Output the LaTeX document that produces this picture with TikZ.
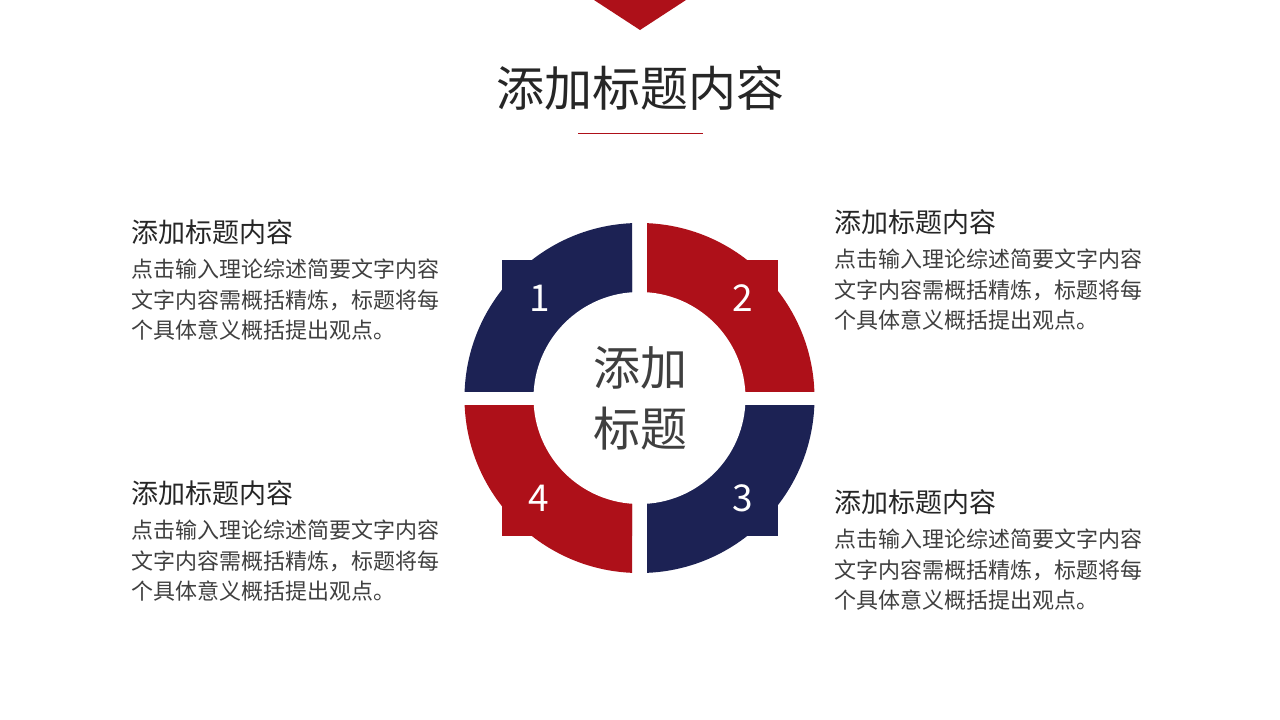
\documentclass[tikz,border=0pt]{standalone}
\usepackage{fontspec}
\setmainfont{Noto Sans CJK SC}
\usetikzlibrary{positioning}
\definecolor{navy}{HTML}{1C2254}
\definecolor{crimson}{HTML}{AE1019}
\definecolor{darkgray}{HTML}{262626}
\definecolor{textgray}{HTML}{3F3F3F}

\begin{document}
\begin{tikzpicture}[x=1pt,y=-1pt,
    heading/.style={anchor=west,inner sep=0pt,text=darkgray,font=\fontsize{27}{32}\selectfont},
    body/.style={anchor=north west,inner sep=0pt,align=left,text=textgray,font=\fontsize{22}{30.5}\selectfont},
    digit/.style={inner sep=0pt,text=white,font=\fontsize{37}{40}\selectfont}]
    \useasboundingbox (0,0) rectangle (1280,720);

    % top mark and title
    \fill[crimson] (594,0) -- (686,0) -- (640,30) -- cycle;
    \node (title) [inner sep=0pt,text=darkgray,font=\fontsize{48}{56}\selectfont] at (640,88) {添加标题内容};
    \draw[crimson,line width=1.2pt] (578,133.5) -- (703,133.5);

    % ring
    \begin{scope}[shift={(639.5,398)}]
        \foreach \sx/\sy/\col in {-1/-1/navy, 1/-1/crimson, 1/1/navy, -1/1/crimson} {
            \begin{scope}
                \clip (\sx*7.5,\sy*7) rectangle (\sx*220,\sy*220);
                \fill[\col] (0,0) circle[radius=175pt];
                \fill[\col] (-138,-138) rectangle (138,138);
            \end{scope}
        }
        \fill[white] (0,0) circle[radius=106pt];
    \end{scope}

    \node (one) [digit] at (540,298) {1};
    \node (two) [digit] at (743,298) {2};
    \node (three) [digit] at (743,498) {3};
    \node (four) [digit] at (539,498) {4};

    \node (center) [inner sep=0pt,align=center,text=textgray,font=\fontsize{47}{61}\selectfont] at (640,398) {添加\\标题};

    % text blocks
    \node (headA) [heading] at (131,232) {添加标题内容};
    \node (bodyA) [body,below=14pt of headA.south west,anchor=north west] {点击输入理论综述简要文字内容\\文字内容需概括精炼，标题将每\\个具体意义概括提出观点。};

    \node (headB) [heading] at (834,222) {添加标题内容};
    \node (bodyB) [body,below=14pt of headB.south west,anchor=north west] {点击输入理论综述简要文字内容\\文字内容需概括精炼，标题将每\\个具体意义概括提出观点。};

    \node (headC) [heading] at (834,502) {添加标题内容};
    \node (bodyC) [body,below=14pt of headC.south west,anchor=north west] {点击输入理论综述简要文字内容\\文字内容需概括精炼，标题将每\\个具体意义概括提出观点。};

    \node (headD) [heading] at (131,493) {添加标题内容};
    \node (bodyD) [body,below=14pt of headD.south west,anchor=north west] {点击输入理论综述简要文字内容\\文字内容需概括精炼，标题将每\\个具体意义概括提出观点。};
\end{tikzpicture}
\end{document}
